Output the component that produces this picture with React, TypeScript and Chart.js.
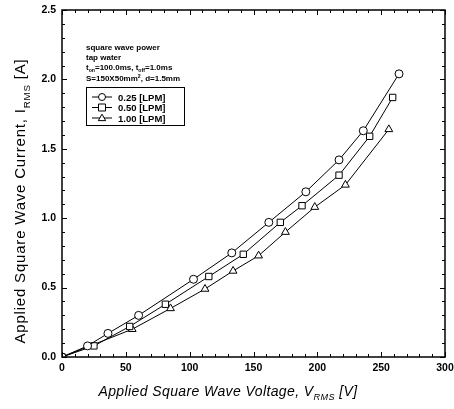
import React, { useEffect, useRef } from "react";
import { Chart, registerables } from "chart.js";

Chart.register(...registerables);

// ---- data ----
const voltage025 = [0, 20, 36, 60, 103, 133, 162, 191, 217, 236, 264];
const current025 = [0, 0.08, 0.17, 0.3, 0.56, 0.75, 0.97, 1.19, 1.42, 1.63, 2.04];
const voltage050 = [0, 25, 53, 81, 115, 142, 171, 188, 217, 241, 259];
const current050 = [0, 0.08, 0.22, 0.38, 0.58, 0.74, 0.97, 1.09, 1.31, 1.59, 1.87];
const voltage100 = [0, 55, 85, 112, 134, 154, 175, 198, 222, 256];
const current100 = [0, 0.2, 0.35, 0.49, 0.62, 0.73, 0.9, 1.08, 1.24, 1.64];
const seriesLabels = ["0.25 [LPM]", "0.50 [LPM]", "1.00 [LPM]"];
const seriesMarkers = ["circle", "rect", "triangle"];
const xTickValues = [0, 50, 100, 150, 200, 250, 300];
const yTickValues = [0, 0.5, 1.0, 1.5, 2.0, 2.5];
const xMinorStep = 10;
const yMinorStep = 0.1;

type Seg = { t: string; sub?: boolean; sup?: boolean };
const noteLines: Seg[][] = [
  [{ t: "square wave power" }],
  [{ t: "tap water" }],
  [{ t: "t" }, { t: "on", sub: true }, { t: "=100.0ms, t" }, { t: "off", sub: true }, { t: "=1.0ms" }],
  [{ t: "S=150X50mm" }, { t: "2", sup: true }, { t: ", d=1.5mm" }],
];
const xTitle: Seg[] = [{ t: "Applied Square Wave Voltage, V" }, { t: "RMS", sub: true }, { t: " [V]" }];
const yTitle: Seg[] = [{ t: "Applied Square Wave Current, I" }, { t: "RMS", sub: true }, { t: " [A]" }];

function toPoints(xs: number[], ys: number[]) {
  return xs.map((x, i) => ({ x, y: ys[i] }));
}

function drawSegs(
  ctx: CanvasRenderingContext2D,
  segs: Seg[],
  x: number,
  y: number,
  size: number,
  weight: string,
  style: string,
  align: "left" | "center",
  spacing = 0
) {
  const fam = "Arial, 'Liberation Sans', sans-serif";
  (ctx as any).letterSpacing = `${spacing}px`;
  const widths = segs.map((s) => {
    const fs = s.sub || s.sup ? size * 0.65 : size;
    ctx.font = `${style} ${weight} ${fs}px ${fam}`;
    return ctx.measureText(s.t).width;
  });
  const total = widths.reduce((a, b) => a + b, 0);
  let cx = align === "center" ? x - total / 2 : x;
  ctx.textBaseline = "alphabetic";
  ctx.textAlign = "left";
  segs.forEach((s, i) => {
    const fs = s.sub || s.sup ? size * 0.65 : size;
    ctx.font = `${style} ${weight} ${fs}px ${fam}`;
    const dy = s.sub ? size * 0.3 : s.sup ? -size * 0.4 : 0;
    ctx.fillText(s.t, cx, y + dy);
    cx += widths[i];
  });
  (ctx as any).letterSpacing = "0px";
}

function drawMarker(ctx: CanvasRenderingContext2D, kind: string, x: number, y: number, r: number) {
  ctx.beginPath();
  if (kind === "circle") ctx.arc(x, y, r, 0, Math.PI * 2);
  else if (kind === "rect") ctx.rect(x - r, y - r, 2 * r, 2 * r);
  else {
    ctx.moveTo(x, y - r * 1.1);
    ctx.lineTo(x + r * 1.05, y + r * 0.75);
    ctx.lineTo(x - r * 1.05, y + r * 0.75);
    ctx.closePath();
  }
  ctx.fillStyle = "#fff";
  ctx.fill();
  ctx.stroke();
}

const decorPlugin = {
  id: "decor",
  afterDraw(chart: any) {
    const ctx: CanvasRenderingContext2D = chart.ctx;
    const { left, right, top, bottom } = chart.chartArea;
    const xs = chart.scales.x;
    const ys = chart.scales.y;
    ctx.save();
    ctx.strokeStyle = "#000";
    ctx.fillStyle = "#000";
    // frame
    ctx.lineWidth = 1.5;
    ctx.strokeRect(left, top, right - left, bottom - top);
    // inward ticks
    ctx.lineWidth = 1;
    ctx.beginPath();
    for (let v = xs.min; v <= xs.max + 1e-9; v += xMinorStep) {
      const px = Math.round(xs.getPixelForValue(v)) + 0.5;
      const major = Math.abs(v % 50) < 1e-6;
      const len = major ? 5 : 3;
      ctx.moveTo(px, bottom);
      ctx.lineTo(px, bottom - len);
      ctx.moveTo(px, top);
      ctx.lineTo(px, top + len);
    }
    for (let v = ys.min; v <= ys.max + 1e-9; v += yMinorStep) {
      const py = Math.round(ys.getPixelForValue(v)) + 0.5;
      const k = Math.round(v * 10);
      const major = k % 5 === 0;
      const len = major ? 5 : 3;
      ctx.moveTo(left, py);
      ctx.lineTo(left + len, py);
      ctx.moveTo(right, py);
      ctx.lineTo(right - len, py);
    }
    ctx.stroke();

    // axis titles
    ctx.fillStyle = "#000";
    drawSegs(ctx, xTitle, 228, 396, 14, "normal", "italic", "center", 0.4);
    ctx.save();
    ctx.translate(25, 201);
    ctx.rotate(-Math.PI / 2);
    drawSegs(ctx, yTitle, 0, 0, 15, "normal", "normal", "center", 0.8);
    ctx.restore();

    // notes
    const noteX = left + 24;
    const noteYs = [50, 60, 70, 81];
    noteLines.forEach((ln, i) => drawSegs(ctx, ln, noteX, noteYs[i], 8, "bold", "normal", "left"));

    // legend box
    const bx = left + 24, by = 87, bw = 98, bh = 38;
    ctx.lineWidth = 1;
    ctx.strokeRect(bx + 0.5, by + 0.5, bw, bh);
    const rows = [97, 107.5, 118];
    rows.forEach((ry, i) => {
      ctx.beginPath();
      ctx.moveTo(bx + 6, ry);
      ctx.lineTo(bx + 26, ry);
      ctx.stroke();
      drawMarker(ctx, seriesMarkers[i], bx + 16, ry, 3.5);
      ctx.fillStyle = "#000";
      drawSegs(ctx, [{ t: seriesLabels[i] }], bx + 32, ry + 3.5, 9.5, "bold", "normal", "left");
    });
    ctx.restore();
  },
};

export default function App() {
  const ref = useRef<HTMLCanvasElement | null>(null);
  useEffect(() => {
    document.body.style.margin = "0";
    const canvas = ref.current!;
    const common = {
      showLine: true,
      borderColor: "#000",
      borderWidth: 1,
      backgroundColor: "#fff",
      pointBackgroundColor: "#fff",
      pointBorderColor: "#000",
      pointBorderWidth: 1,
      tension: 0,
    };
    const tickFont = { family: "Arial, 'Liberation Sans', sans-serif", size: 10.5, weight: "bold" };
    const chart = new Chart(canvas, {
      type: "scatter",
      data: {
        datasets: [
          { ...common, label: seriesLabels[0], data: toPoints(voltage025, current025), pointStyle: "circle", pointRadius: 4 },
          { ...common, label: seriesLabels[1], data: toPoints(voltage050, current050), pointStyle: "rect", pointRadius: 4.5 },
          { ...common, label: seriesLabels[2], data: toPoints(voltage100, current100), pointStyle: "triangle", pointRadius: 4.5 },
        ],
      },
      options: {
        responsive: false,
        animation: false,
        devicePixelRatio: 1,
        layout: { padding: { left: 0, top: 10, right: 9, bottom: 0 } },
        plugins: { legend: { display: false }, tooltip: { enabled: false } },
        scales: {
          x: {
            type: "linear",
            min: 0,
            max: 300,
            afterBuildTicks: (s: any) => { s.ticks = xTickValues.map((v) => ({ value: v })); },
            afterFit: (s: any) => { s.height = 52; s.paddingRight = 0; s.paddingLeft = 0; },
            grid: { display: false, drawTicks: false },
            border: { display: false },
            ticks: { color: "#000", padding: 5, maxRotation: 0, font: tickFont, callback: (v: any) => String(v) },
          },
          y: {
            type: "linear",
            min: 0,
            max: 2.5,
            afterBuildTicks: (s: any) => { s.ticks = yTickValues.map((v) => ({ value: v })); },
            afterFit: (s: any) => { s.width = 62; s.paddingTop = 0; s.paddingBottom = 0; },
            grid: { display: false, drawTicks: false },
            border: { display: false },
            ticks: { color: "#000", padding: 6, font: tickFont, callback: (v: any) => Number(v).toFixed(1) },
          },
        },
      } as any,
      plugins: [decorPlugin],
    });
    return () => chart.destroy();
  }, []);
  return (
    <div style={{ position: "absolute", left: 0, top: 0, width: 454, height: 409, background: "#fff" }}>
      <canvas ref={ref} width={454} height={409} />
    </div>
  );
}
